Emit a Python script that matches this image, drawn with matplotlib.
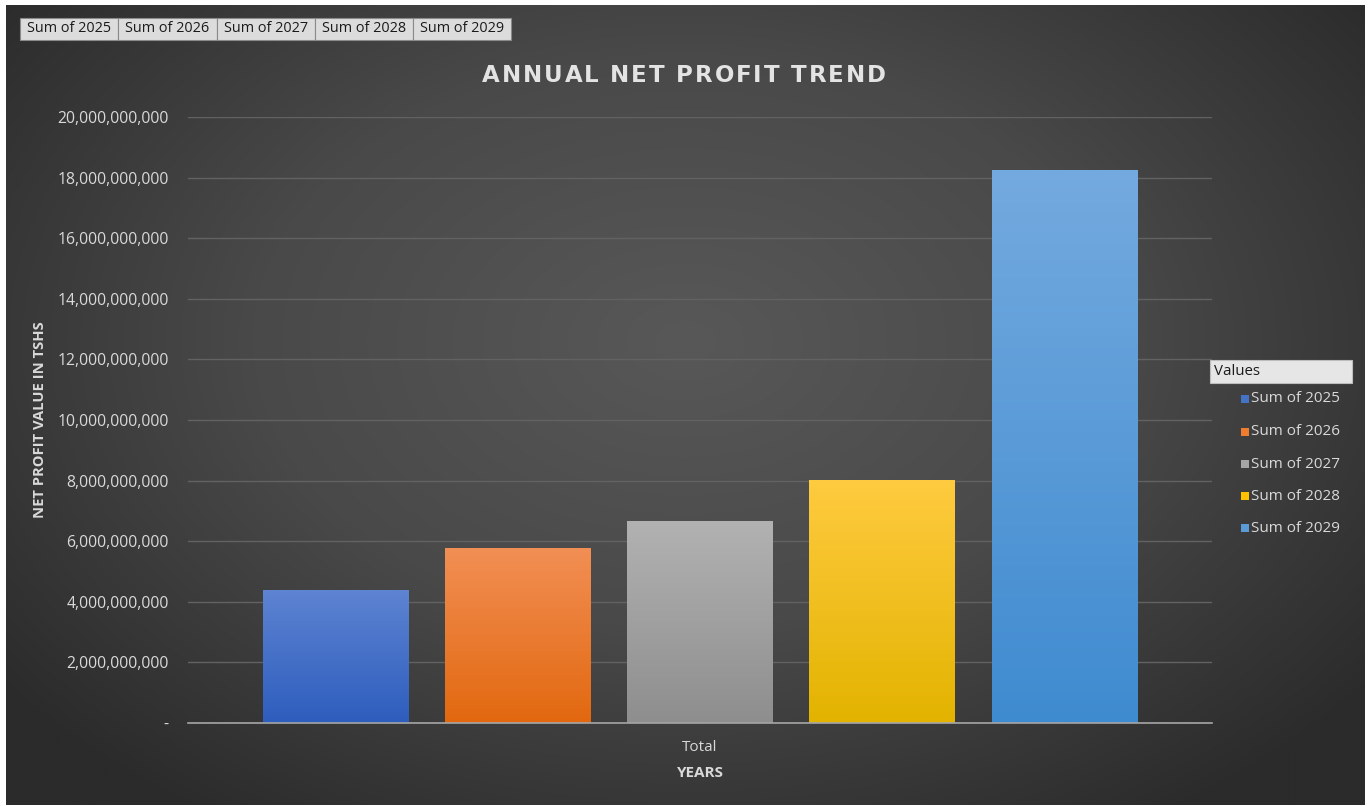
import numpy as np
import matplotlib
matplotlib.use("Agg")
import matplotlib.pyplot as plt
from matplotlib.patches import Rectangle
from matplotlib.colors import LinearSegmentedColormap
from matplotlib.ticker import FuncFormatter

# ---- data ----
series = ["Sum of 2025", "Sum of 2026", "Sum of 2027", "Sum of 2028", "Sum of 2029"]
values = [4.40e9, 5.78e9, 6.68e9, 8.03e9, 18.25e9]
category = "Total"
y_ticks = [0, 2e9, 4e9, 6e9, 8e9, 10e9, 12e9, 14e9, 16e9, 18e9, 20e9]
title = "ANNUAL NET PROFIT TREND"

top_cols = ["#5e84d2", "#f28f55", "#b2b2b2", "#ffcb40", "#74aadf"]
bot_cols = ["#2d5dbd", "#e2680f", "#8e8e8e", "#e3b300", "#3f8bd0"]
legend_cols = ["#4472c4", "#ed7d31", "#a5a5a5", "#ffc000", "#5b9bd5"]

plt.rcParams['font.family'] = ['Open Sans', 'DejaVu Sans']

W, H = 1372, 806
fig = plt.figure(figsize=(W / 100, H / 100), dpi=100, facecolor="white")
renderer = fig.canvas.get_renderer()

# background radial gradient
bg = fig.add_axes([6 / W, 1 - 805 / H, (1365 - 6) / W, (805 - 5) / H], zorder=0)
yy, xx = np.mgrid[0:1:400j, 0:1:700j]
r = np.sqrt(((xx - 0.5) / 0.75) ** 2 + ((yy - 0.42) / 0.85) ** 2)
r = np.clip(r / 0.85, 0, 1)
bgmap = LinearSegmentedColormap.from_list("bg", ["#585858", "#494949", "#2b2b2b"])
bg.imshow(r, cmap=bgmap, aspect="auto", extent=[0, 1, 0, 1], origin="upper", vmin=0, vmax=1)
bg.set_axis_off()

# main axes
ax = fig.add_axes([188 / W, 1 - 723 / H, (1212 - 188) / W, (723 - 117) / H], zorder=2)
ax.patch.set_alpha(0)
xs = np.arange(len(series))
bw = 0.80
bars = ax.bar(xs, values, width=bw, color=legend_cols, zorder=3, label=series)
for b, tc, bc in zip(bars, top_cols, bot_cols):
    cm = LinearSegmentedColormap.from_list("g", [bc, tc])
    x0, y0 = b.get_x(), b.get_y()
    grad = np.linspace(0, 1, 256).reshape(-1, 1)
    im = ax.imshow(grad, cmap=cm, aspect="auto", origin="lower",
                   extent=[x0, x0 + b.get_width(), y0, y0 + b.get_height()], zorder=4)
    im.set_clip_path(b)

ax.set_xlim(-0.81, len(series) - 1 + 0.81)
ax.set_ylim(0, 20e9)
ax.set_yticks(y_ticks)
ax.yaxis.set_major_formatter(FuncFormatter(lambda v, p: "-" if v == 0 else f"{v:,.0f}"))
ax.set_xticks([xs.mean()])
ax.set_xticklabels([category])
ax.grid(axis="y", color="#626262", linewidth=1, zorder=1)
for s in ["top", "right", "left"]:
    ax.spines[s].set_visible(False)
ax.spines["bottom"].set_color("#a6a6a6")
ax.spines["bottom"].set_linewidth(1.2)
ax.spines["bottom"].set_zorder(5)
ax.tick_params(axis="y", length=0, pad=14, labelsize=11.3, labelcolor="#d9d9d9")
ax.tick_params(axis="x", length=0, pad=12, labelsize=11, labelcolor="#d9d9d9")
ax.set_xlabel("YEARS", color="#d9d9d9", fontsize=11, fontweight="bold", labelpad=8)

fig.text(40 / W, 1 - 420 / H, "NET PROFIT VALUE IN TSHS", rotation=90, color="#d9d9d9",
         fontsize=10.6, fontweight="bold", ha="center", va="center", zorder=3)

# title with letter spacing (each character is real text)
tprops = dict(color="#e3e3e3", fontsize=16.5, fontweight="bold", family="DejaVu Sans",
              va="center", ha="left", zorder=3)
def text_w(s):
    t = fig.text(0, 0, s, **tprops)
    w = t.get_window_extent(renderer).width
    t.remove()
    return w
bar_w = text_w("|")
spacing = 1.9
prefix_w = [text_w(title[:i] + "|") - bar_w if i > 0 else 0 for i in range(len(title) + 1)]
total_w = prefix_w[-1] + spacing * (len(title) - 1)
x_start = 684 - total_w / 2
for i, ch in enumerate(title):
    if ch == " ":
        continue
    fig.text((x_start + prefix_w[i] + spacing * i) / W, 1 - 76 / H, ch, **tprops)

# field buttons at top
btn_x = [20, 118, 217, 315, 413, 511]
for i, name in enumerate(series):
    x0, x1 = btn_x[i], btn_x[i + 1]
    fig.patches.append(Rectangle((x0 / W, 1 - 40 / H), (x1 - x0) / W, 22 / H,
                                 transform=fig.transFigure, facecolor="#dcdcdc",
                                 edgecolor="#8a8a8a", linewidth=0.8, zorder=3))
    fig.text((x0 + x1) / 2 / W, 1 - 29 / H, name, fontsize=10.4, color="#1a1a1a",
             ha="center", va="center", zorder=4)

# legend
fig.patches.append(Rectangle((1210 / W, 1 - 383 / H), 142 / W, 23 / H,
                             transform=fig.transFigure, facecolor="#e6e6e6",
                             edgecolor="#bdbdbd", linewidth=0.8, zorder=3))
fig.text(1214 / W, 1 - 371.5 / H, "Values", fontsize=10.8, color="#1a1a1a",
         ha="left", va="center", zorder=4)
leg_y = [399, 432, 464, 496, 528]
for name, c, ly in zip(series, legend_cols, leg_y):
    fig.patches.append(Rectangle((1241 / W, 1 - (ly + 4) / H), 8 / W, 8 / H,
                                 transform=fig.transFigure, facecolor=c,
                                 edgecolor="none", zorder=3))
    fig.text(1251 / W, 1 - ly / H, name, fontsize=11, color="#d9d9d9",
             ha="left", va="center", zorder=4)

fig.savefig("out.png", dpi=100, facecolor="white")
